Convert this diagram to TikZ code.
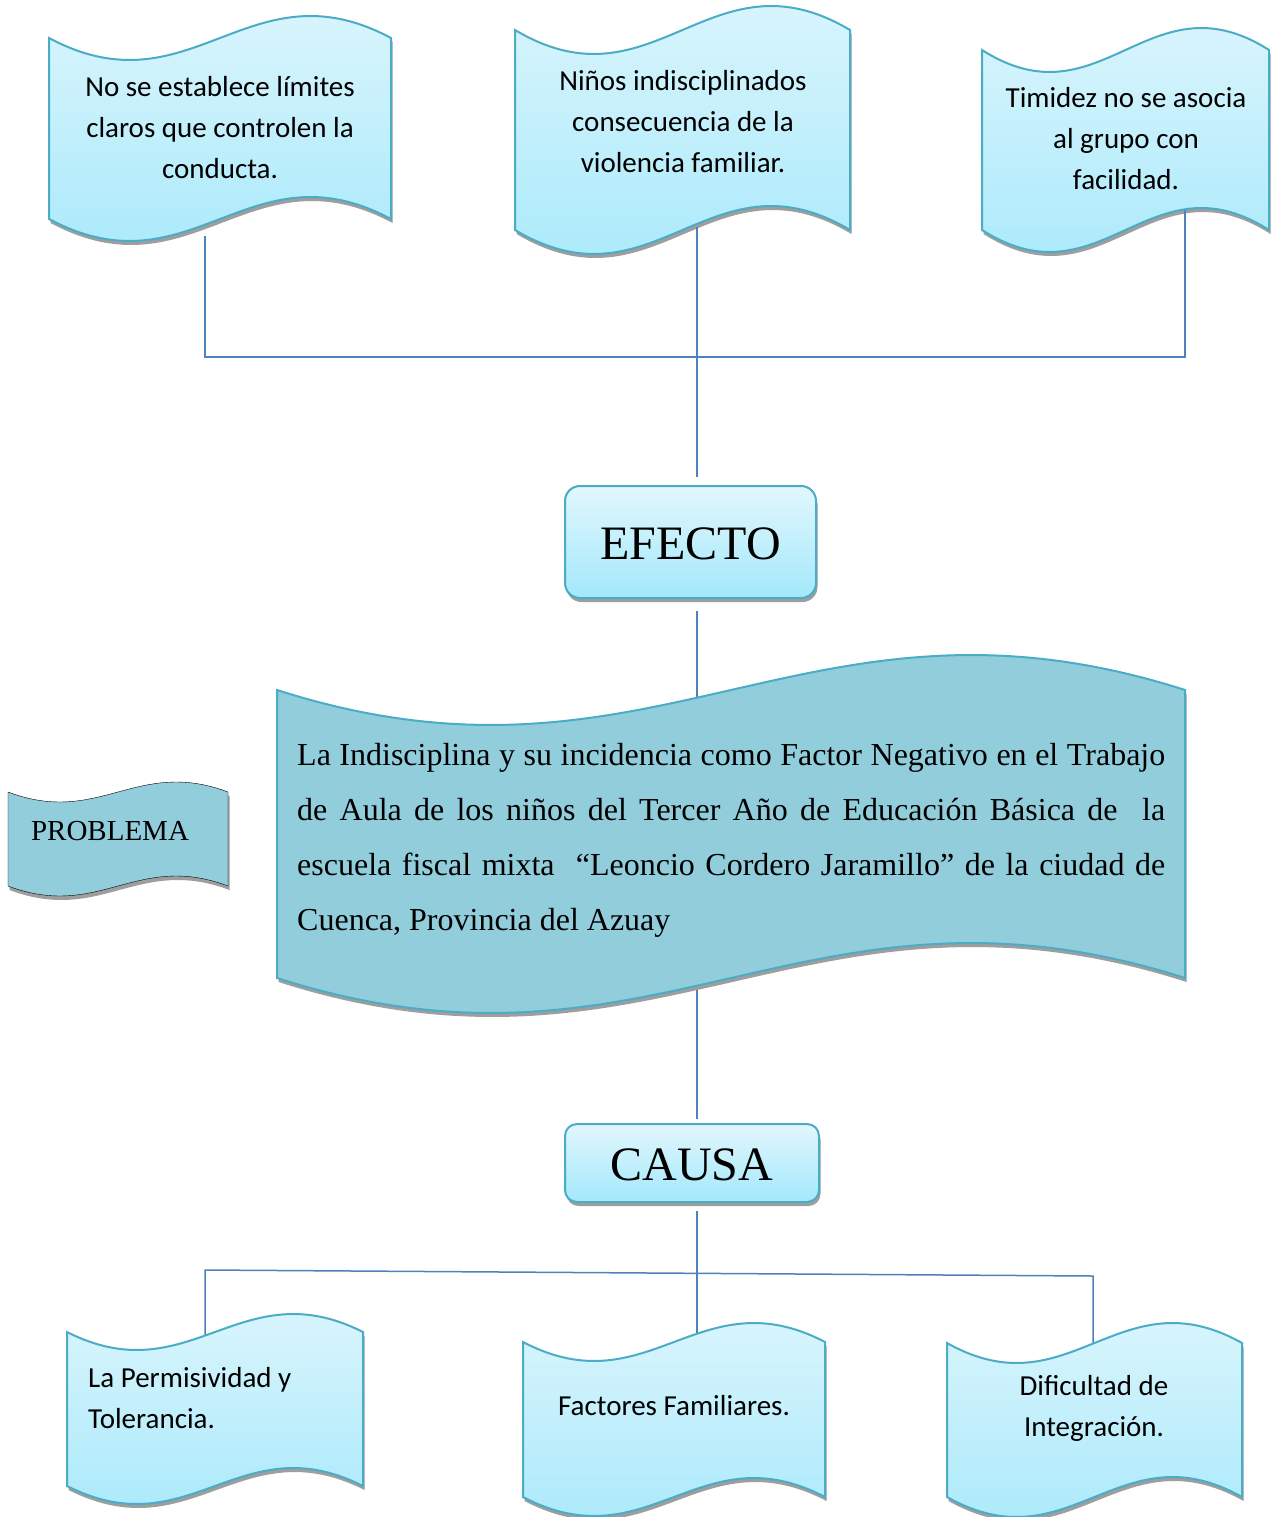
\documentclass[tikz,border=0pt]{standalone}
\usepackage{fontspec}
\setmainfont{Liberation Serif}
\newfontfamily\calibfont{Carlito}
\usetikzlibrary{shadows}
\definecolor{linkblue}{RGB}{79,129,189}
\definecolor{waveedge}{RGB}{75,172,198}
\definecolor{wavetop}{RGB}{226,247,253}
\definecolor{wavebot}{RGB}{163,232,251}
\definecolor{themefill}{RGB}{146,205,220}
\definecolor{shadowgray}{RGB}{158,158,158}
\newcommand{\wavepath}[5]{(#1,#3) .. controls ({7/12*#1+5/12*#2},{#3+3.46*#5}) and ({5/12*#1+7/12*#2},{#3-3.46*#5}) .. (#2,#3) -- (#2,#4) .. controls ({5/12*#1+7/12*#2},{#4-3.46*#5}) and ({7/12*#1+5/12*#2},{#4+3.46*#5}) .. (#1,#4) -- cycle}

\begin{document}
\begin{tikzpicture}[x=1pt, y=-1pt,
        link/.style={linkblue, line width=1.5pt},
        boxshadow/.style={drop shadow={shadow xshift=1.5pt, shadow yshift=-4pt, fill=shadowgray, opacity=1}},
        wave/.style={draw=waveedge, line width=2pt, top color=wavetop, bottom color=wavebot, boxshadow},
        themewave/.style={draw=waveedge, line width=2pt, fill=themefill, boxshadow},
        flagwave/.style={fill=themefill, boxshadow},
        titlebox/.style={draw=waveedge, line width=2pt, rounded corners=15pt, top color=wavetop, bottom color=wavebot, boxshadow, text height=35pt, text depth=0pt, font=\fontsize{48}{58}\selectfont},
        lbl/.style={font=\calibfont\fontsize{29}{41}\selectfont, align=center, inner sep=0pt}]
        \fill[white] (0,0) rectangle (1276,1517);
        \useasboundingbox (0,0) rectangle (1276,1517);

        \draw[wave] \wavepath{49}{391}{38}{219}{22};
        \draw[wave] \wavepath{515}{850}{30}{230}{24};
        \draw[wave] \wavepath{982}{1269}{50}{230}{22};
        \draw[flagwave] \wavepath{8}{228}{792}{886}{10};

        \node[titlebox, minimum width=251pt, minimum height=112pt] (efecto) at (690.5,542) {EFECTO};
        \node[titlebox, rounded corners=12pt, minimum width=254pt, minimum height=78pt] (causa) at (692,1163) {CAUSA};

        \coordinate (ef1 foot) at (205,236);
        \coordinate (ef2 foot) at (697,227);
        \coordinate (ef3 foot) at (1185,210);
        \coordinate (bar left) at (205,357);
        \coordinate (bar right) at (1185,357);
        \coordinate (tema top) at (697,740);
        \coordinate (tema foot) at (697,960);
        \coordinate (ca1 top) at (205,1345);
        \coordinate (ca2 top) at (697,1360);
        \coordinate (ca3 top) at (1093,1348);
        \coordinate (rail left) at (205,1270);
        \coordinate (rail right) at (1093,1276);

        \draw[link] (ef1 foot) -- (bar left) -- (bar right) -- (ef3 foot);
        \draw[link, shorten >=8pt] (ef2 foot) -- (efecto.north -| ef2 foot);
        \draw[link, shorten <=12pt] (efecto.south -| tema top) -- (tema top);
        \draw[link, shorten >=4pt] (tema foot) -- (causa.north -| tema foot);
        \draw[link, shorten <=8pt] (causa.south -| ca2 top) -- (ca2 top);
        \draw[link] (ca1 top) -- (rail left) -- (rail right) -- (ca3 top);

        \draw[themewave] \wavepath{277}{1185}{690}{978}{35};
        \draw[wave] \wavepath{67}{363}{1332}{1486}{18};
        \draw[wave] \wavepath{523}{825}{1342}{1497}{19};
        \draw[wave] \wavepath{947}{1242}{1343}{1497}{20};

        \node[lbl] (ef1) at (220,128) {No se establece límites\\claros que controlen la\\conducta.};
        \node[lbl] (ef2) at (683,122) {Niños indisciplinados\\consecuencia de la\\violencia familiar.};
        \node[lbl] (ef3) at (1126,139) {Timidez no se asocia\\al grupo con\\facilidad.};
        \node[font=\fontsize{29}{35}\selectfont, inner sep=0pt] (problema) at (110,831) {PROBLEMA};
        \node[anchor=north west, inner sep=0pt, text width=868pt, align=justify, font=\fontsize{32}{55}\selectfont] (tema) at (297,743) {La Indisciplina y su incidencia como Factor Negativo en el Trabajo\linebreak de Aula de los niños del Tercer Año de Educación Básica de\ \ la\linebreak escuela fiscal mixta\ \ “Leoncio Cordero Jaramillo” de la ciudad de\linebreak Cuenca, Provincia del Azuay};
        \node[lbl, align=left, anchor=west] (ca1) at (88,1398) {La Permisividad y\\Tolerancia.};
        \node[lbl] (ca2) at (674,1406) {Factores Familiares.};
        \node[lbl] (ca3) at (1094,1408) {Dificultad de\\Integración.};
\end{tikzpicture}
\end{document}
